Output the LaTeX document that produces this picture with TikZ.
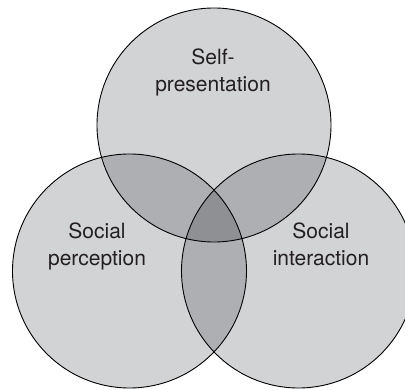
\documentclass[tikz,border=0pt]{standalone}
\usepackage{fontspec}
\setmainfont{TeX Gyre Heros}
\definecolor{oneset}{HTML}{D2D3D5}
\definecolor{twosets}{HTML}{AEAFB2}
\definecolor{threesets}{HTML}{8F9094}
\definecolor{ink}{HTML}{231F20}
\begin{document}
\begin{tikzpicture}[x=1pt,y=-1pt,
  label text/.style={font=\fontsize{21}{27}\selectfont, text=ink, align=center, inner sep=0pt, anchor=base},
  outline/.style={draw=black, line width=0.9pt}]
\useasboundingbox (0,0) rectangle (405,390);
\clip (0,0) rectangle (405,390);
% circle centres and radius
\def\rad{117}
\coordinate (T) at (214,125);
\coordinate (L) at (129.5,271);
\coordinate (R) at (298.5,271);
% base fill
\fill[oneset] (T) circle (\rad);
\fill[oneset] (L) circle (\rad);
\fill[oneset] (R) circle (\rad);
% pairwise overlaps
\begin{scope}\clip (T) circle (\rad); \fill[twosets] (L) circle (\rad);\end{scope}
\begin{scope}\clip (T) circle (\rad); \fill[twosets] (R) circle (\rad);\end{scope}
\begin{scope}\clip (L) circle (\rad); \fill[twosets] (R) circle (\rad);\end{scope}
% centre overlap
\begin{scope}\clip (T) circle (\rad); \clip (L) circle (\rad); \fill[threesets] (R) circle (\rad);\end{scope}
% outlines
\draw[outline] (T) circle (\rad);
\draw[outline] (L) circle (\rad);
\draw[outline] (R) circle (\rad);
% labels
\node[label text] (self) at (213,92) {Self-\\presentation};
\node[label text] (perc) at (97,266) {Social\\perception};
\node[label text] (inter) at (321,266) {Social\\interaction};
\end{tikzpicture}
\end{document}
